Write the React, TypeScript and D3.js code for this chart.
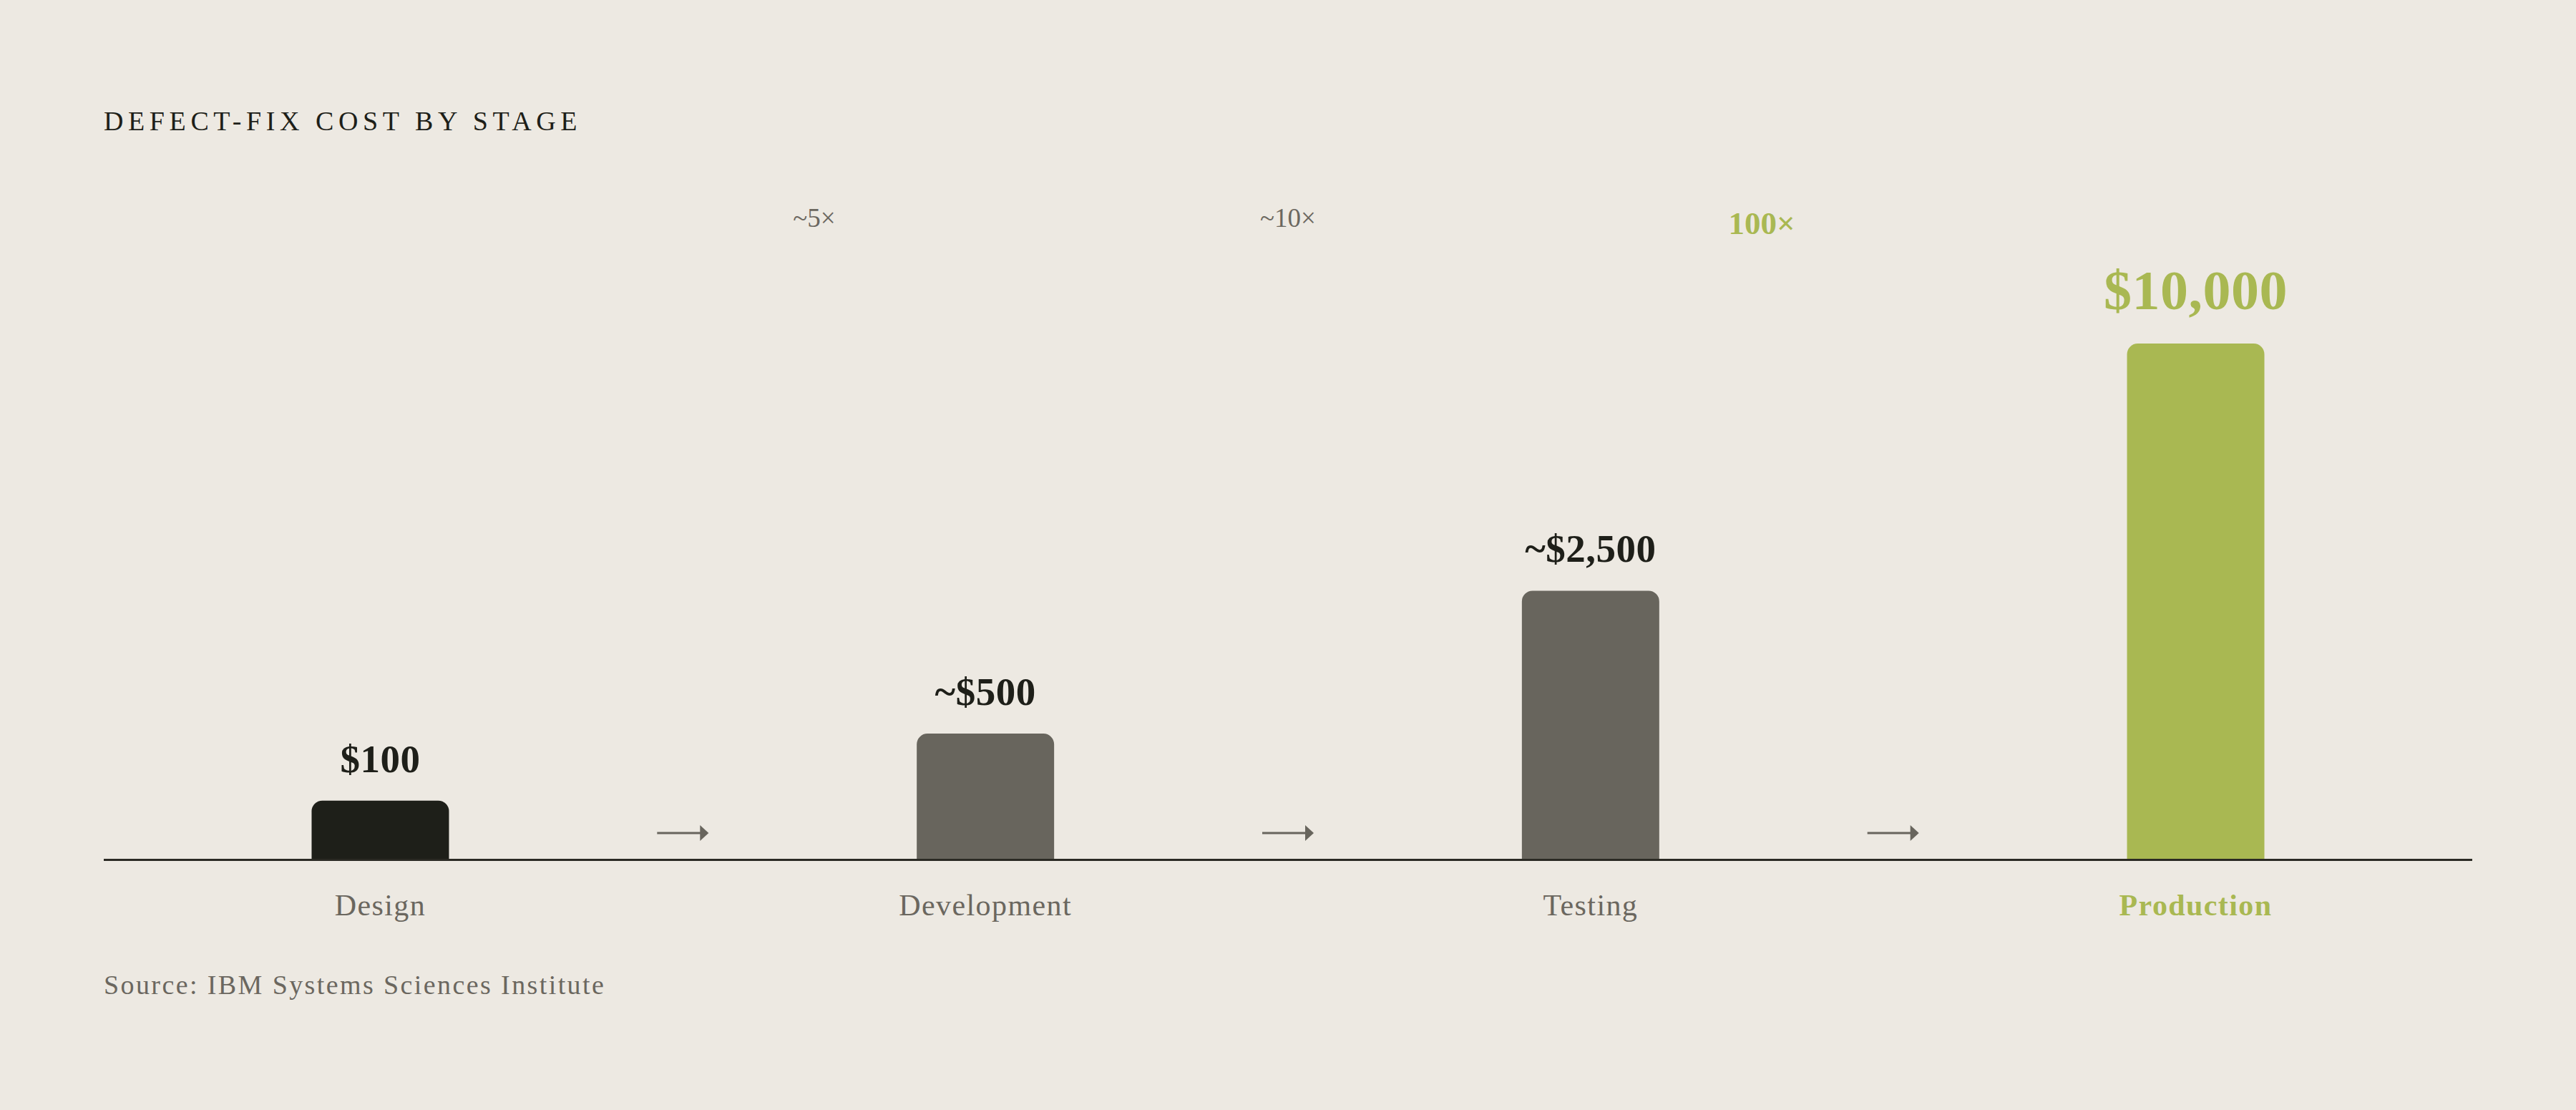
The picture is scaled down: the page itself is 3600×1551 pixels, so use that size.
import { FC, useEffect, useRef } from 'react';
import * as d3 from 'd3';

const stages = ['Design', 'Development', 'Testing', 'Production'];
const costs = [100, 500, 2500, 10000];
const costLabels = ['$100', '~$500', '~$2,500', '$10,000'];
const multipliers = ['~5×', '~10×', '100×'];

const BG = '#EDE9E2';
const INK = '#1E1F19';
const MUTED = '#68655D';
const TEXT_MUTED = '#6B675F';
const GREEN = '#A9B852';
const FONT = '"Liberation Serif", "Times New Roman", serif';

const barColor = (i: number) =>
  i === 0 ? INK : i === stages.length - 1 ? GREEN : MUTED;

// rect with rounded top corners only
const topRoundedRect = (x: number, y: number, w: number, h: number, r: number) => {
  const p = d3.path();
  const rr = Math.min(r, h, w / 2);
  p.moveTo(x, y + h);
  p.lineTo(x, y + rr);
  p.arcTo(x, y, x + rr, y, rr);
  p.lineTo(x + w - rr, y);
  p.arcTo(x + w, y, x + w, y + rr, rr);
  p.lineTo(x + w, y + h);
  p.closePath();
  return p.toString();
};

const Chart: FC = () => {
  const svgRef = useRef<SVGSVGElement>(null);

  useEffect(() => {
    if (!svgRef.current) return;
    document.body.style.margin = '0';

    const width = 3600;
    const height = 1551;
    const left = 145;
    const right = 3455;
    const baseline = 1201.5;

    const svg = d3
      .select(svgRef.current)
      .attr('width', width)
      .attr('height', height)
      .style('display', 'block');
    svg.selectAll('*').remove();

    svg.append('rect').attr('width', width).attr('height', height).attr('fill', BG);

    const xScale = d3
      .scaleBand<string>()
      .domain(stages)
      .range([left, right])
      .paddingInner(0.773)
      .paddingOuter(0.3435);
    const yScale = d3
      .scalePow()
      .exponent(0.47)
      .domain([0, 10000])
      .range([baseline, 480]);
    const frac = d3.scaleLinear().domain([0, 1]).range([left, right]);

    const bw = xScale.bandwidth();
    const cx = (s: string) => (xScale(s) ?? 0) + bw / 2;
    const isLast = (i: number, n: number) => i === n - 1;

    // title
    svg
      .append('text')
      .attr('x', left)
      .attr('y', 182)
      .attr('font-family', FONT)
      .attr('font-size', 38)
      .attr('letter-spacing', 6.6)
      .attr('fill', INK)
      .text('DEFECT-FIX COST BY STAGE');

    // multipliers
    svg
      .selectAll('.mult')
      .data(multipliers)
      .join('text')
      .attr('class', 'mult')
      .attr('x', (_, i) => frac(0.3 + 0.2 * i))
      .attr('y', (_, i) => (isLast(i, multipliers.length) ? 327 : 317))
      .attr('text-anchor', 'middle')
      .attr('font-family', FONT)
      .attr('font-size', (_, i) => (isLast(i, multipliers.length) ? 45 : 37))
      .attr('font-weight', (_, i) => (isLast(i, multipliers.length) ? 700 : 400))
      .attr('fill', (_, i) => (isLast(i, multipliers.length) ? GREEN : TEXT_MUTED))
      .text((d) => d);

    // bars
    svg
      .selectAll('.bar')
      .data(costs)
      .join('path')
      .attr('class', 'bar')
      .attr('d', (d, i) =>
        topRoundedRect(xScale(stages[i]) ?? 0, yScale(d), bw, baseline - yScale(d), 15)
      )
      .attr('fill', (_, i) => barColor(i));

    // value labels
    svg
      .selectAll('.value')
      .data(costs)
      .join('text')
      .attr('class', 'value')
      .attr('x', (_, i) => cx(stages[i]))
      .attr('y', (d, i) => yScale(d) - (isLast(i, costs.length) ? 48 : 40))
      .attr('text-anchor', 'middle')
      .attr('font-family', FONT)
      .attr('font-weight', 700)
      .attr('font-size', (_, i) => (isLast(i, costs.length) ? 78 : 55))
      .attr('letter-spacing', 0.5)
      .attr('fill', (_, i) => (isLast(i, costs.length) ? GREEN : INK))
      .text((_, i) => costLabels[i]);

    // arrows between stages
    const gaps = d3.pairs(stages);
    const arrows = svg
      .selectAll('.arrow')
      .data(gaps)
      .join('g')
      .attr('class', 'arrow')
      .attr('transform', ([a, b]) => `translate(${(cx(a) + cx(b)) / 2}, ${baseline - 37.5})`);
    arrows
      .append('line')
      .attr('x1', -36)
      .attr('x2', 26)
      .attr('stroke', MUTED)
      .attr('stroke-width', 3);
    arrows
      .append('path')
      .attr('d', 'M24,-11L36,0L24,11Z')
      .attr('fill', MUTED);

    // axis line
    svg
      .append('line')
      .attr('x1', left)
      .attr('x2', right)
      .attr('y1', baseline)
      .attr('y2', baseline)
      .attr('stroke', '#2B2A24')
      .attr('stroke-width', 3);

    // stage labels
    svg
      .selectAll('.stage')
      .data(stages)
      .join('text')
      .attr('class', 'stage')
      .attr('x', (d) => cx(d))
      .attr('y', 1279)
      .attr('text-anchor', 'middle')
      .attr('font-family', FONT)
      .attr('font-size', 42)
      .attr('letter-spacing', 1.4)
      .attr('font-weight', (_, i) => (isLast(i, stages.length) ? 700 : 400))
      .attr('fill', (_, i) => (isLast(i, stages.length) ? GREEN : TEXT_MUTED))
      .text((d) => d);

    // source
    svg
      .append('text')
      .attr('x', left)
      .attr('y', 1389)
      .attr('font-family', FONT)
      .attr('font-size', 38)
      .attr('letter-spacing', 2.4)
      .attr('fill', TEXT_MUTED)
      .text('Source: IBM Systems Sciences Institute');
  }, []);

  return <svg ref={svgRef} />;
};

export default function App() {
  return <Chart />;
}
